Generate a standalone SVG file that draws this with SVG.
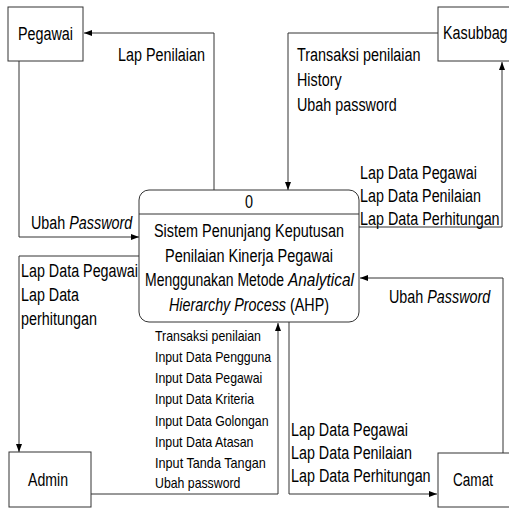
<svg xmlns="http://www.w3.org/2000/svg" width="509" height="509" viewBox="0 0 509 509">
<style>
.t{font-family:"Liberation Sans",Arial,sans-serif;font-size:18px;fill:#000}
.s{font-size:15px}
.i{font-style:italic}
.box{fill:#fff;stroke:#333;stroke-width:1}
.ln{fill:none;stroke:#333;stroke-width:1}
</style>
<defs>
<marker id="ah" viewBox="0 0 8 6" refX="8" refY="3" markerWidth="8" markerHeight="6" orient="auto" markerUnits="userSpaceOnUse"><path d="M0,0 L8,3 L0,6 z" fill="#000"/></marker>
</defs>
<rect width="509" height="509" fill="#fff"/>
<g id="connectors">
<path class="ln" d="M214,190 V33 H84" marker-end="url(#ah)"/>
<path class="ln" d="M19,61 V237 H139" marker-end="url(#ah)"/>
<path class="ln" d="M139,256 H19 V452" marker-end="url(#ah)"/>
<path class="ln" d="M91,494 H278 V323" marker-end="url(#ah)"/>
<path class="ln" d="M438,33 H288 V190" marker-end="url(#ah)"/>
<path class="ln" d="M359,227 H502 V62" marker-end="url(#ah)"/>
<path class="ln" d="M289,322 V494 H437" marker-end="url(#ah)"/>
<path class="ln" d="M503,453 V278 H360" marker-end="url(#ah)"/>
</g>
<g id="labels">
<text class="t" x="118" y="61" textLength="87" lengthAdjust="spacingAndGlyphs">Lap Penilaian</text>
<text class="t" x="31" y="229" textLength="34.3" lengthAdjust="spacingAndGlyphs">Ubah</text>
<text class="t i" x="69.3" y="229" textLength="63" lengthAdjust="spacingAndGlyphs">Password</text>
<text class="t" x="21" y="277" textLength="117" lengthAdjust="spacingAndGlyphs">Lap Data Pegawai</text>
<text class="t" x="21" y="301" textLength="58" lengthAdjust="spacingAndGlyphs">Lap Data</text>
<text class="t" x="21" y="325" textLength="76" lengthAdjust="spacingAndGlyphs">perhitungan</text>
<text class="t" x="297" y="61" textLength="123.6" lengthAdjust="spacingAndGlyphs">Transaksi penilaian</text>
<text class="t" x="297" y="86" textLength="44.6" lengthAdjust="spacingAndGlyphs">History</text>
<text class="t" x="297" y="111" textLength="99.7" lengthAdjust="spacingAndGlyphs">Ubah password</text>
<text class="t" x="360" y="179" textLength="117" lengthAdjust="spacingAndGlyphs">Lap Data Pegawai</text>
<text class="t" x="360" y="202" textLength="121" lengthAdjust="spacingAndGlyphs">Lap Data Penilaian</text>
<text class="t" x="360" y="225" textLength="139.6" lengthAdjust="spacingAndGlyphs">Lap Data Perhitungan</text>
<text class="t" x="389" y="303" textLength="34.3" lengthAdjust="spacingAndGlyphs">Ubah</text>
<text class="t i" x="427.3" y="303" textLength="63" lengthAdjust="spacingAndGlyphs">Password</text>
<text class="t s" x="155" y="341" textLength="106" lengthAdjust="spacingAndGlyphs">Transaksi penilaian</text>
<text class="t s" x="155" y="362" textLength="116.2" lengthAdjust="spacingAndGlyphs">Input Data Pengguna</text>
<text class="t s" x="155" y="383" textLength="107.3" lengthAdjust="spacingAndGlyphs">Input Data Pegawai</text>
<text class="t s" x="155" y="404" textLength="99.1" lengthAdjust="spacingAndGlyphs">Input Data Kriteria</text>
<text class="t s" x="155" y="425.5" textLength="113.5" lengthAdjust="spacingAndGlyphs">Input Data Golongan</text>
<text class="t s" x="155" y="446.5" textLength="98.5" lengthAdjust="spacingAndGlyphs">Input Data Atasan</text>
<text class="t s" x="155" y="467.5" textLength="110.8" lengthAdjust="spacingAndGlyphs">Input Tanda Tangan</text>
<text class="t s" x="155" y="488" textLength="85.4" lengthAdjust="spacingAndGlyphs">Ubah password</text>
<text class="t" x="291" y="436" textLength="117" lengthAdjust="spacingAndGlyphs">Lap Data Pegawai</text>
<text class="t" x="291" y="459" textLength="121" lengthAdjust="spacingAndGlyphs">Lap Data Penilaian</text>
<text class="t" x="291" y="482" textLength="139.6" lengthAdjust="spacingAndGlyphs">Lap Data Perhitungan</text>
</g>
<g id="pegawai">
<rect class="box" x="8" y="7" width="75" height="54"/>
<text class="t" x="45.5" y="40" text-anchor="middle" textLength="55" lengthAdjust="spacingAndGlyphs">Pegawai</text>
</g>
<g id="kasubbag">
<rect class="box" x="438" y="7" width="80" height="54"/>
<text class="t" x="443" y="39" textLength="64.6" lengthAdjust="spacingAndGlyphs">Kasubbag</text>
</g>
<g id="admin">
<rect class="box" x="9" y="452" width="82" height="55"/>
<text class="t" x="48" y="486" text-anchor="middle" textLength="40" lengthAdjust="spacingAndGlyphs">Admin</text>
</g>
<g id="camat">
<rect class="box" x="438" y="453" width="80" height="54"/>
<text class="t" x="453" y="486" textLength="40" lengthAdjust="spacingAndGlyphs">Camat</text>
</g>
<g id="process">
<rect class="box" x="139" y="190" width="220" height="132" rx="10" ry="10"/>
<line class="ln" x1="139" y1="214" x2="359" y2="214"/>
<text class="t" x="249" y="208" text-anchor="middle" textLength="8" lengthAdjust="spacingAndGlyphs">0</text>
<text class="t" x="249" y="237" text-anchor="middle" textLength="190" lengthAdjust="spacingAndGlyphs">Sistem Penunjang Keputusan</text>
<text class="t" x="249" y="261.5" text-anchor="middle" textLength="168" lengthAdjust="spacingAndGlyphs">Penilaian Kinerja Pegawai</text>
<text class="t" x="145" y="286" textLength="139" lengthAdjust="spacingAndGlyphs">Menggunakan Metode</text>
<text class="t i" x="288" y="286" textLength="66" lengthAdjust="spacingAndGlyphs">Analytical</text>
<text class="t i" x="169" y="310.5" textLength="117" lengthAdjust="spacingAndGlyphs">Hierarchy Process</text>
<text class="t" x="290" y="310.5" textLength="39" lengthAdjust="spacingAndGlyphs">(AHP)</text>
</g>
</svg>
